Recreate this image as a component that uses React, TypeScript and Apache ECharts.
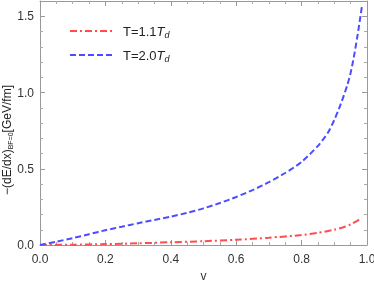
import React, { useEffect, useRef } from "react";
import * as echarts from "echarts";

const vBlue = [0, 0.05, 0.1, 0.15, 0.2, 0.25, 0.3, 0.35, 0.4, 0.45, 0.5, 0.55, 0.6, 0.65, 0.7, 0.75, 0.8, 0.85, 0.88, 0.9, 0.92, 0.94, 0.95, 0.96, 0.97, 0.98, 0.984];
const yBlue = [0, 0.022, 0.045, 0.071, 0.097, 0.12, 0.143, 0.164, 0.186, 0.211, 0.24, 0.275, 0.315, 0.36, 0.412, 0.472, 0.545, 0.65, 0.735, 0.82, 0.925, 1.05, 1.13, 1.235, 1.36, 1.5, 1.56];
const vRed = [0, 0.1, 0.2, 0.3, 0.4, 0.5, 0.6, 0.7, 0.8, 0.85, 0.9, 0.93, 0.95, 0.97, 0.984];
const yRed = [0, 0.002, 0.006, 0.011, 0.018, 0.025, 0.034, 0.048, 0.065, 0.08, 0.1, 0.118, 0.135, 0.158, 0.18];
const xTicks = [0, 0.2, 0.4, 0.6, 0.8, 1.0];
const yTicks = [0, 0.5, 1.0, 1.5];

const RED = "#ff4d4d";
const BLUE = "#4d4dff";
const FONT = "Liberation Sans";

export default function App() {
  const ref = useRef<HTMLDivElement>(null);
  useEffect(() => {
    const chart = echarts.init(ref.current!, null, { renderer: "svg" });
    const axisCommon = {
      axisLine: { show: true, onZero: false, lineStyle: { color: "#999", width: 1 } },
      axisTick: { show: true, inside: true, length: 5, lineStyle: { color: "#999" } },
      minorTick: { show: true, length: 3, lineStyle: { color: "#aaa" } },
      splitLine: { show: false },
    };
    const labelStyle = { color: "#333", fontSize: 12, fontFamily: FONT };
    const richSub = (fs: number) => ({
      i: { fontSize: 13, fontStyle: "italic", fontFamily: FONT, fill: "#222" },
      s: { fontSize: fs, fontStyle: "italic", fontFamily: FONT, fill: "#222", padding: [7, 0, 0, 0] },
    });
    chart.setOption({
      animation: false,
      grid: { left: 40, right: 7, top: 1, bottom: 37, containLabel: false, outerBoundsMode: "none" },
      xAxis: [
        {
          type: "value", min: 0, max: 1, interval: 0.2, position: "bottom",
          ...axisCommon, minorTick: { ...axisCommon.minorTick, splitNumber: 4 },
          axisLabel: { ...labelStyle, margin: 8, formatter: (v: number) => (xTicks.some(t => Math.abs(t - v) < 1e-9) ? v.toFixed(1) : "") },
          name: "v", nameLocation: "middle", nameGap: 24, nameTextStyle: { ...labelStyle, lineHeight: 12 },
        },
        {
          type: "value", min: 0, max: 1, interval: 0.2, position: "top",
          ...axisCommon, minorTick: { ...axisCommon.minorTick, splitNumber: 4 },
          axisLabel: { show: false },
        },
      ],
      yAxis: [
        {
          type: "value", min: 0, max: 1.6, interval: 0.5, position: "left",
          ...axisCommon, minorTick: { ...axisCommon.minorTick, splitNumber: 5 },
          axisLabel: { ...labelStyle, margin: 6, showMaxLabel: false, formatter: (v: number) => (yTicks.some(t => Math.abs(t - v) < 1e-9) ? v.toFixed(1) : "") },
        },
        {
          type: "value", min: 0, max: 1.6, interval: 0.5, position: "right",
          ...axisCommon, minorTick: { ...axisCommon.minorTick, splitNumber: 5 },
          axisLabel: { show: false },
        },
      ],
      series: [
        {
          type: "line", name: "T=1.1Td", showSymbol: false, smooth: 0.25,
          data: vRed.map((v, i) => [v, yRed[i]]),
          lineStyle: { color: RED, width: 2, type: [7, 3, 2, 3] },
        },
        {
          type: "line", name: "T=2.0Td", showSymbol: false, smooth: 0.25,
          data: vBlue.map((v, i) => [v, yBlue[i]]),
          lineStyle: { color: BLUE, width: 2, type: [6, 3] },
        },
      ],
      graphic: [
        { type: "line", shape: { x1: 70, y1: 31, x2: 114, y2: 31 }, style: { stroke: RED, lineWidth: 2, lineDash: [7, 3, 2, 3] } },
        { type: "line", shape: { x1: 70, y1: 55, x2: 114, y2: 55 }, style: { stroke: BLUE, lineWidth: 2, lineDash: [6, 3] } },
        {
          type: "text", x: 123, y: 31,
          style: { text: "T=1.1{i|T}{s|d}", fontSize: 13, fontFamily: FONT, fill: "#222", verticalAlign: "middle", rich: richSub(9) },
        },
        {
          type: "text", x: 123, y: 55,
          style: { text: "T=2.0{i|T}{s|d}", fontSize: 13, fontFamily: FONT, fill: "#222", verticalAlign: "middle", rich: richSub(9) },
        },
        {
          type: "text", x: 7, y: 140, rotation: Math.PI / 2,
          style: {
            text: "−(dE/dx){s|BF=0}[GeV/fm]", fontSize: 12, fontFamily: FONT, fill: "#222", align: "center", verticalAlign: "middle",
            rich: { s: { fontSize: 7, fontFamily: FONT, fill: "#222", padding: [6, 0, 0, 0] } },
          },
        },
      ],
    });
    return () => chart.dispose();
  }, []);
  return <div ref={ref} style={{ position: "fixed", left: 0, top: 0, width: 374, height: 282 }} />;
}
